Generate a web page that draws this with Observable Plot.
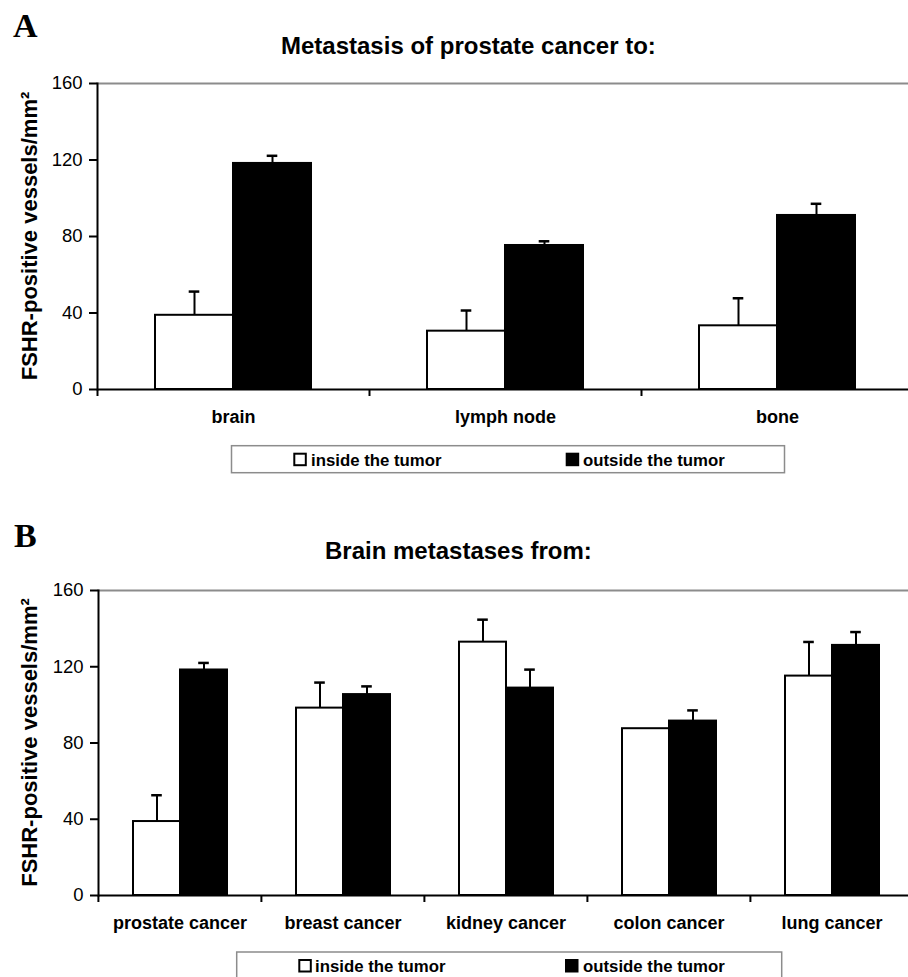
<!DOCTYPE html>
<html><head><meta charset="utf-8">
<script src="https://cdn.jsdelivr.net/npm/d3@7"></script>
<script src="https://cdn.jsdelivr.net/npm/@observablehq/plot@0.6"></script>
<style>
html,body{margin:0;padding:0;background:#fff;overflow:hidden;}
#wrap{position:relative;width:913px;height:977px;overflow:hidden;font-family:"Liberation Sans",Arial,sans-serif;}
#wrap > div, #wrap > svg{position:absolute;left:0;}
#wrap svg{max-width:none;}
</style></head><body>
<div id="wrap">
  <div id="pa" style="top:70px"></div>
  <div id="pb" style="top:577px"></div>
</div>
<script>
// ---- data ----
const seriesNames = ["inside the tumor", "outside the tumor"];
const yTicks = [0, 40, 80, 120, 160];
const yLabel = "FSHR-positive vessels/mm²";

const titleA = "Metastasis of prostate cancer to:";
const catsA = ["brain", "lymph node", "bone"];
const insideA = [38.8, 30.5, 33.3];
const insideErrA = [12.4, 10.8, 14.4];
const outsideA = [118.2, 75.3, 91.0];
const outsideErrA = [4.0, 2.2, 6.1];

const titleB = "Brain metastases from:";
const catsB = ["prostate cancer", "breast cancer", "kidney cancer", "colon cancer", "lung cancer"];
const insideB = [38.8, 98.3, 132.9, 87.5, 115.1];
const insideErrB = [13.8, 13.4, 11.8, 0, 17.9];
const outsideB = [118.3, 105.4, 108.8, 91.5, 131.2];
const outsideErrB = [3.7, 4.3, 9.7, 5.6, 7.0];

const FONT = "'Liberation Sans', Arial, sans-serif";

function makePanel(cats, inside, insideErr, outside, outsideErr, opts) {
  const data = [];
  cats.forEach((c, i) => {
    data.push({cat: c, series: seriesNames[0], value: inside[i], err: insideErr[i]});
    data.push({cat: c, series: seriesNames[1], value: outside[i], err: outsideErr[i]});
  });
  const W = 913, ML = 97;
  const step = (W - ML) / cats.length;
  const withErr = data.filter(d => d.err > 0);
  return Plot.plot({
    width: W, height: opts.height,
    marginLeft: ML, marginRight: 0, marginTop: 13, marginBottom: 50,
    style: {fontFamily: FONT, fontSize: "18.5px", background: "transparent", color: "black", overflow: "visible"},
    fx: {domain: cats, padding: 0, label: null},
    x: {domain: seriesNames, paddingInner: 0, paddingOuter: opts.po, axis: null},
    y: {domain: [0, 160], axis: null},
    color: {domain: seriesNames, range: ["white", "black"]},
    marks: [
      Plot.ruleY([160], {stroke: "#8c8c8c", strokeWidth: 2}),
      Plot.barY(data, {fx: "cat", x: "series", y: "value", fill: "series", stroke: "black", strokeWidth: 2}),
      Plot.ruleX(withErr, {fx: "cat", x: "series", y1: "value", y2: d => d.value + d.err, stroke: "black", strokeWidth: 2}),
      Plot.tickY(withErr, {fx: "cat", x: "series", y: d => d.value + d.err, stroke: "black", strokeWidth: 2.5, insetLeft: opts.capInset, insetRight: opts.capInset}),
      Plot.ruleY([0], {stroke: "black", strokeWidth: 2}),
      Plot.frame({anchor: "left", facetAnchor: "left", stroke: "black", strokeWidth: 2}),
      Plot.axisY({ticks: yTicks, tickSize: 8, tickPadding: 7, fontSize: 18.5, strokeWidth: 2, label: null, tickFormat: d => String(d)}),
      Plot.axisFx({anchor: "bottom", tickSize: 7, tickFormat: () => "", strokeWidth: 2, dx: -step / 2, label: null}),
      Plot.axisFx({anchor: "bottom", tickSize: 0, tickPadding: 21, fontSize: 18, fontWeight: "bold", label: null})
    ]
  });
}

document.getElementById("pa").appendChild(
  makePanel(catsA, insideA, insideErrA, outsideA, outsideErrA, {height: 369, po: 0.732, capInset: 33.7}));
document.getElementById("pb").appendChild(
  makePanel(catsB, insideB, insideErrB, outsideB, outsideErrB, {height: 368, po: 0.72, capInset: 18.2}));

// ---- annotation layer: panel letters, titles, y labels, legends ----
const svg = d3.select("#wrap").append("svg")
  .attr("width", 913).attr("height", 977)
  .style("top", "0px").style("pointer-events", "none")
  .style("font-family", FONT);

const panels = [
  {letter: "A", lx: 13, ly: 37, title: titleA, tx: 281, ty: 53.5, ylc: 236,
   box: [231.5, 445.7, 553, 27], sq: [[293.3, 452.7], [565.7, 452.7]], lt: [311, 583], lty: 466},
  {letter: "B", lx: 14, ly: 547, title: titleB, tx: 325, ty: 558.5, ylc: 742.5,
   box: [236.7, 952, 545, 40], sq: [[298.3, 959], [565, 959]], lt: [315, 583], lty: 972}
];
panels.forEach(p => {
  svg.append("text").attr("x", p.lx).attr("y", p.ly)
    .attr("font-family", "'Liberation Serif', 'Times New Roman', serif")
    .attr("font-weight", "bold").attr("font-size", 34).text(p.letter);
  svg.append("text").attr("x", p.tx).attr("y", p.ty)
    .attr("font-weight", "bold").attr("font-size", 24).text(p.title);
  svg.append("text").attr("transform", `translate(37,${p.ylc}) rotate(-90)`)
    .attr("text-anchor", "middle").attr("font-weight", "bold").attr("font-size", 22).text(yLabel);
  svg.append("rect").attr("x", p.box[0]).attr("y", p.box[1]).attr("width", p.box[2]).attr("height", p.box[3])
    .attr("fill", "none").attr("stroke", "#8c8c8c").attr("stroke-width", 1.5);
  seriesNames.forEach((s, i) => {
    svg.append("rect").attr("x", p.sq[i][0] + 1).attr("y", p.sq[i][1] + 1).attr("width", 11.5).attr("height", 11.5)
      .attr("fill", i === 0 ? "white" : "black").attr("stroke", "black").attr("stroke-width", 2);
    svg.append("text").attr("x", p.lt[i]).attr("y", p.lty)
      .attr("font-weight", "bold").attr("font-size", 16.8).text(s);
  });
});
</script>
</body></html>
